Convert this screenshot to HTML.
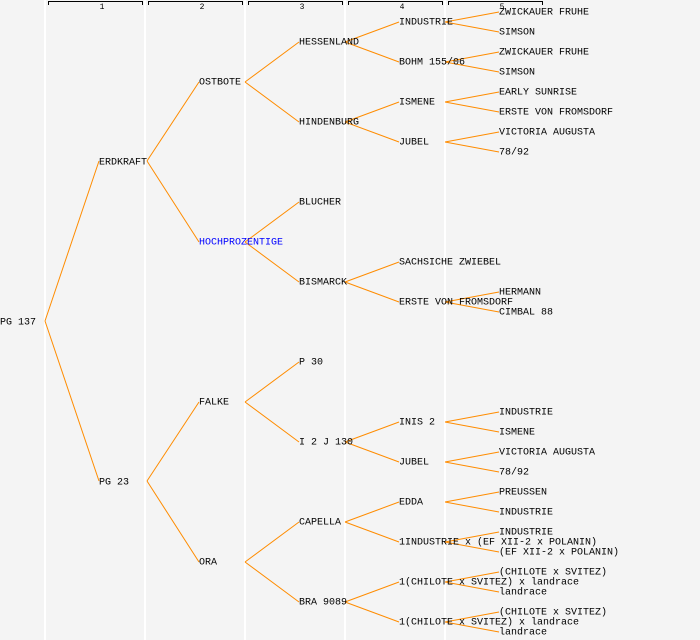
<!DOCTYPE html>
<html><head><meta charset="utf-8"><style>
html,body{margin:0;padding:0;background:#f4f4f4}
svg{display:block}
text{font-family:"Liberation Mono",monospace;font-size:10px;fill:#000;dominant-baseline:middle}
</style></head><body>
<svg width="700" height="640" viewBox="0 0 700 640" xmlns="http://www.w3.org/2000/svg">
<rect width="700" height="640" fill="#f4f4f4"/>
<g stroke="#fff" stroke-width="2">
<line x1="45" y1="0" x2="45" y2="640"/><line x1="145" y1="0" x2="145" y2="640"/>
<line x1="245" y1="0" x2="245" y2="640"/><line x1="345" y1="0" x2="345" y2="640"/>
<line x1="445" y1="0" x2="445" y2="640"/>
</g>
<g stroke="#000" stroke-width="1" fill="none">
<path d="M48.5 5V1.5H142.5V5"/><path d="M148.5 5V1.5H242.5V5"/><path d="M248.5 5V1.5H342.5V5"/><path d="M348.5 5V1.5H442.5V5"/><path d="M448.5 5V1.5H542.5V5"/>
</g>
<g style="font-size:8px">
<text x="102" y="7" text-anchor="middle" style="font-size:8px">1</text>
<text x="202" y="7" text-anchor="middle" style="font-size:8px">2</text>
<text x="302" y="7" text-anchor="middle" style="font-size:8px">3</text>
<text x="402" y="7" text-anchor="middle" style="font-size:8px">4</text>
<text x="502" y="7" text-anchor="middle" style="font-size:8px">5</text>
</g>
<g stroke="#ff8c00" stroke-width="1" fill="none">
<path d="M45 321L99 161M45 321L99 481"/>
<path d="M147 161L199 82M147 161L199 242M147 481L199 402M147 481L199 562"/>
<path d="M245 82L299 42M245 82L299 122M245 242L299 202M245 242L299 282M245 402L299 362M245 402L299 442M245 562L299 522M245 562L299 602"/>
<path d="M345 42L399 22M345 42L399 62M345 122L399 102M345 122L399 142M345 282L399 262M345 282L399 302M345 442L399 422M345 442L399 462M345 522L399 502M345 522L399 542M345 602L399 582M345 602L399 622"/>
<path d="M445 22L499 12M445 22L499 32M445 62L499 52M445 62L499 72M445 102L499 92M445 102L499 112M445 142L499 132M445 142L499 152M445 302L499 292M445 302L499 312M445 422L499 412M445 422L499 432M445 462L499 452M445 462L499 472M445 502L499 492M445 502L499 512M445 542L499 532M445 542L499 552M445 582L499 572M445 582L499 592M445 622L499 612M445 622L499 632"/>
</g>
<text x="0" y="322">PG 137</text>
<text x="99" y="162">ERDKRAFT</text>
<text x="99" y="482">PG 23</text>
<text x="199" y="82">OSTBOTE</text>
<text x="199" y="242" style="fill:#0000ff">HOCHPROZENTIGE</text>
<text x="199" y="402">FALKE</text>
<text x="199" y="562">ORA</text>
<text x="299" y="42">HESSENLAND</text>
<text x="299" y="122">HINDENBURG</text>
<text x="299" y="202">BLUCHER</text>
<text x="299" y="282">BISMARCK</text>
<text x="299" y="362">P 30</text>
<text x="299" y="442">I 2 J 130</text>
<text x="299" y="522">CAPELLA</text>
<text x="299" y="602">BRA 9089</text>
<text x="399" y="22">INDUSTRIE</text>
<text x="399" y="62">BOHM 155/06</text>
<text x="399" y="102">ISMENE</text>
<text x="399" y="142">JUBEL</text>
<text x="399" y="262">SACHSICHE ZWIEBEL</text>
<text x="399" y="302">ERSTE VON FROMSDORF</text>
<text x="399" y="422">INIS 2</text>
<text x="399" y="462">JUBEL</text>
<text x="399" y="502">EDDA</text>
<text x="399" y="542">1INDUSTRIE x (EF XII-2 x POLANIN)</text>
<text x="399" y="582">1(CHILOTE x SVITEZ) x landrace</text>
<text x="399" y="622">1(CHILOTE x SVITEZ) x landrace</text>
<text x="499" y="12">ZWICKAUER FRUHE</text>
<text x="499" y="32">SIMSON</text>
<text x="499" y="52">ZWICKAUER FRUHE</text>
<text x="499" y="72">SIMSON</text>
<text x="499" y="92">EARLY SUNRISE</text>
<text x="499" y="112">ERSTE VON FROMSDORF</text>
<text x="499" y="132">VICTORIA AUGUSTA</text>
<text x="499" y="152">78/92</text>
<text x="499" y="292">HERMANN</text>
<text x="499" y="312">CIMBAL 88</text>
<text x="499" y="412">INDUSTRIE</text>
<text x="499" y="432">ISMENE</text>
<text x="499" y="452">VICTORIA AUGUSTA</text>
<text x="499" y="472">78/92</text>
<text x="499" y="492">PREUSSEN</text>
<text x="499" y="512">INDUSTRIE</text>
<text x="499" y="532">INDUSTRIE</text>
<text x="499" y="552">(EF XII-2 x POLANIN)</text>
<text x="499" y="572">(CHILOTE x SVITEZ)</text>
<text x="499" y="592">landrace</text>
<text x="499" y="612">(CHILOTE x SVITEZ)</text>
<text x="499" y="632">landrace</text>
</svg>
</body></html>
